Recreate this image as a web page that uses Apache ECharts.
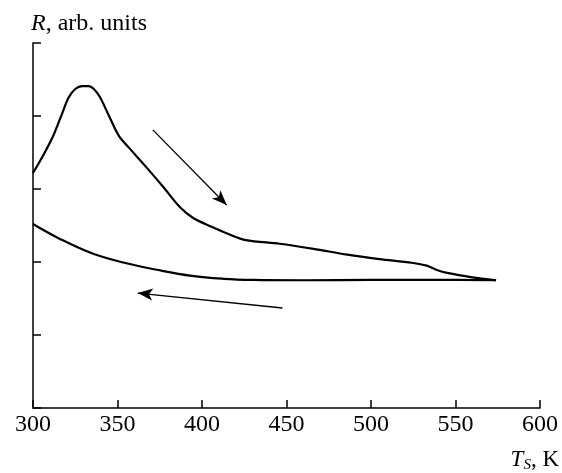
<!DOCTYPE html>
<html>
<head>
<meta charset="utf-8">
<script src="https://cdn.jsdelivr.net/npm/echarts@6/dist/echarts.min.js"></script>
<style>
  html, body { margin: 0; padding: 0; background: #fff; }
  #main { width: 562px; height: 473px; }
</style>
</head>
<body>
<div id="main"></div>
<script>
// heating branch (upper), T in K vs R in arb. units
var heatT = [300, 306, 312, 317, 321, 325, 329, 333, 336, 339.6, 345, 351, 357, 367, 377, 387, 395, 406, 416, 426, 446, 466, 486, 505, 524, 533, 539, 545, 560, 574];
var heatR = [3.22, 3.46, 3.73, 4.02, 4.25, 4.37, 4.41, 4.41, 4.37, 4.26, 4.00, 3.72, 3.56, 3.30, 3.03, 2.75, 2.60, 2.48, 2.38, 2.30, 2.25, 2.18, 2.10, 2.04, 1.99, 1.95, 1.89, 1.85, 1.79, 1.75];

// cooling branch (lower)
var coolT = [300, 314.8, 334.8, 354, 374, 394, 413, 430, 460, 500, 540, 574];
var coolR = [2.52, 2.33, 2.12, 1.99, 1.89, 1.81, 1.77, 1.755, 1.75, 1.755, 1.755, 1.75];

// arrows: [from, to]
var arrowHeat = [[370.9, 3.81], [414.6, 2.78]];
var arrowCool = [[447.6, 1.37], [362.0, 1.575]];

var xTicks = [300, 350, 400, 450, 500, 550, 600];

function pairs(xs, ys) {
    var out = [];
    for (var i = 0; i < xs.length; i++) out.push([xs[i], ys[i]]);
    return out;
}

function arrowLine(a) {
    return {
        type: 'line',
        data: [],
        silent: true,
        markLine: {
            silent: true,
            symbol: ['none', 'arrow'],
            symbolSize: [9, 15],
            label: { show: false },
            lineStyle: { color: '#000', width: 1.3, type: 'solid' },
            emphasis: { disabled: true },
            data: [[{ coord: a[0] }, { coord: a[1] }]]
        }
    };
}

var chart = echarts.init(document.getElementById('main'));
var font = '"Liberation Serif", "Times New Roman", serif';

var option = {
    animation: false,
    backgroundColor: '#fff',
    grid: { left: 33, right: 21, top: 43, bottom: 65, containLabel: false },
    xAxis: {
        type: 'value',
        min: 300,
        max: 600,
        interval: 50,
        name: '{i|T}{sub|S}{n|, K}',
        nameLocation: 'end',
        nameGap: 19,
        nameTextStyle: {
            align: 'right',
            verticalAlign: 'top',
            padding: [38, 0, 0, 0],
            rich: {
                i: { fontFamily: font, fontStyle: 'italic', fontSize: 23, color: '#000' },
                sub: { fontFamily: font, fontStyle: 'italic', fontSize: 15, color: '#000', padding: [12, 0, 0, 0] },
                n: { fontFamily: font, fontSize: 23, color: '#000' }
            }
        },
        axisLine: { lineStyle: { color: '#000', width: 1.5 } },
        axisTick: { inside: true, length: 8, lineStyle: { color: '#000', width: 1.5 } },
        axisLabel: {
            margin: 5,
            fontFamily: font,
            fontSize: 24,
            color: '#000',
            formatter: function (v) { return xTicks.indexOf(v) >= 0 ? String(v) : ''; }
        },
        splitLine: { show: false }
    },
    yAxis: {
        type: 'value',
        min: 0,
        max: 5,
        interval: 1,
        name: '{i|R}{n|, arb. units}',
        nameLocation: 'end',
        nameGap: 7,
        nameTextStyle: {
            align: 'left',
            padding: [0, 0, 0, -2],
            rich: {
                i: { fontFamily: font, fontStyle: 'italic', fontSize: 24, color: '#000' },
                n: { fontFamily: font, fontSize: 24, color: '#000' }
            }
        },
        axisLine: { show: true, lineStyle: { color: '#000', width: 1.5 } },
        axisTick: { show: true, inside: true, length: 8, lineStyle: { color: '#000', width: 1.5 } },
        axisLabel: { show: false },
        splitLine: { show: false }
    },
    series: [
        {
            type: 'line',
            data: pairs(heatT, heatR),
            smooth: 0.3,
            showSymbol: false,
            lineStyle: { color: '#000', width: 2.2 }
        },
        {
            type: 'line',
            data: pairs(coolT, coolR),
            smooth: 0.4,
            showSymbol: false,
            lineStyle: { color: '#000', width: 2.2 }
        },
        arrowLine(arrowHeat),
        arrowLine(arrowCool)
    ]
};

chart.setOption(option);
</script>
</body>
</html>
